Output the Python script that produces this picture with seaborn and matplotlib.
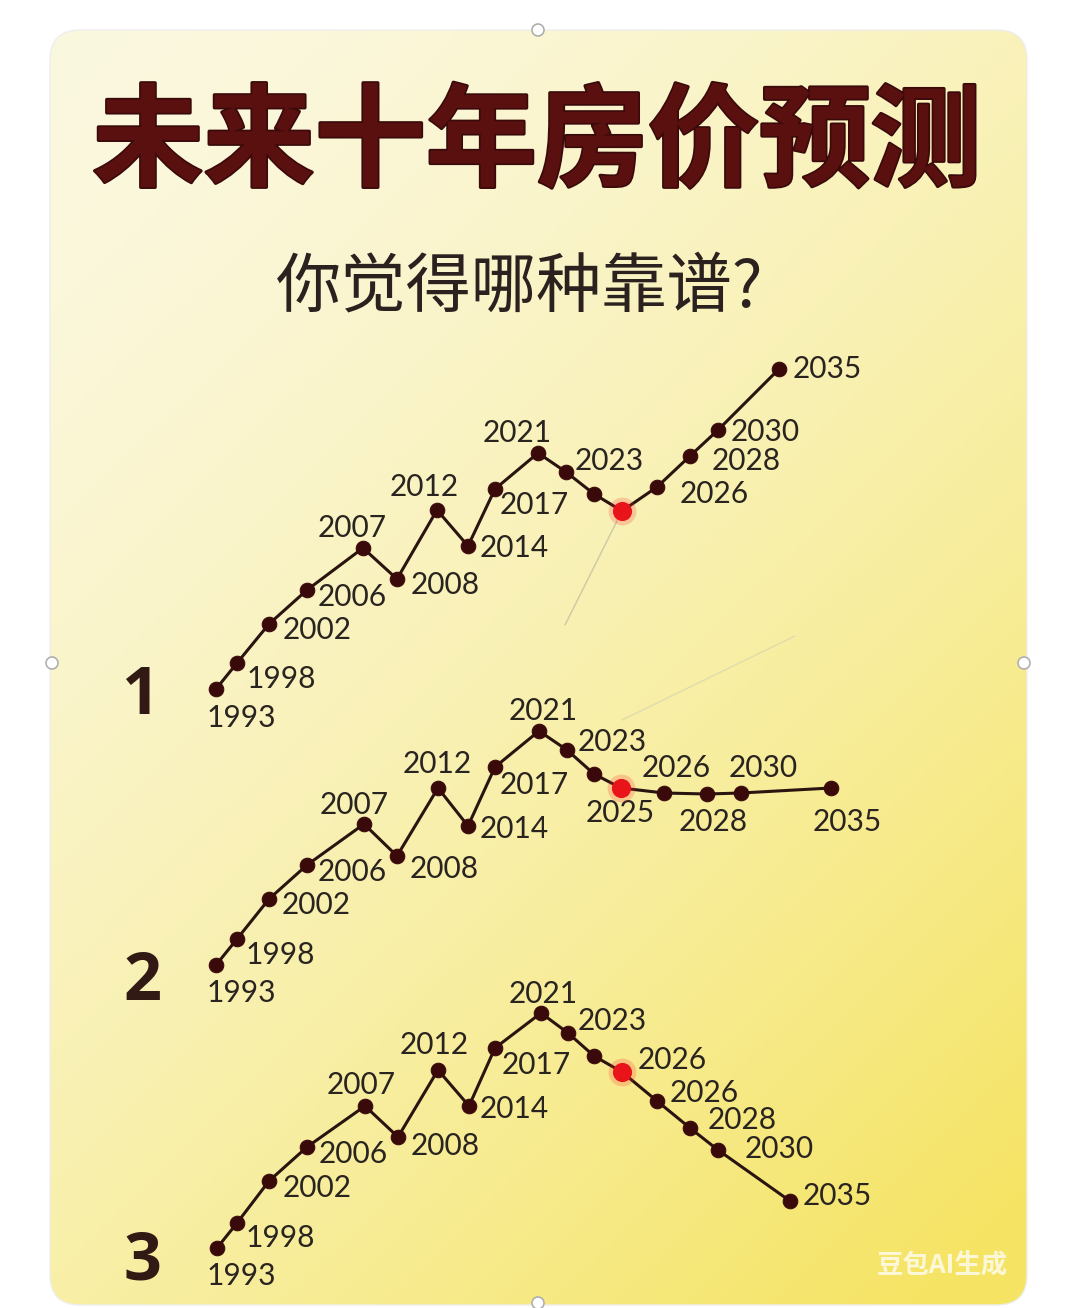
import numpy as np
import pandas as pd
import matplotlib.pyplot as plt
import matplotlib.patheffects as pe
from matplotlib.patches import FancyBboxPatch, Circle
import seaborn as sns

# Data: horizontal step position and price level
x1 = [1.6, 3.7, 6.9, 10.7, 16.3, 19.7, 23.7, 26.8, 29.5, 33.8, 36.6, 39.4, 42.2, 45.7, 49.0, 51.8, 57.9]
y1 = [1.1, 3.7, 7.6, 11.0, 15.2, 12.1, 19.0, 15.4, 21.1, 24.7, 22.8, 20.6, 18.9, 21.3, 24.4, 27.0, 33.1]
labels1 = ['1993', '1998', '2002', '2006', '2007', '2008', '2012', '2014', '2017', '2021', '2023',
           '', '', '2026', '2028', '2030', '2035']

x2 = [1.6, 3.7, 6.9, 10.7, 16.4, 19.7, 23.8, 26.8, 29.5, 33.9, 36.7, 39.4, 42.1, 46.4, 50.7, 54.1, 63.1]
y2 = [1.1, 3.7, 7.7, 11.1, 15.2, 12.0, 18.8, 15.0, 20.9, 24.5, 22.6, 20.2, 18.8, 18.3, 18.2, 18.3, 18.8]
labels2 = ['1993', '1998', '2002', '2006', '2007', '2008', '2012', '2014', '2017', '2021', '2023',
           '', '2025', '2026', '2028', '2030', '2035']

x3 = [1.7, 3.7, 6.9, 10.7, 16.5, 19.8, 23.8, 26.9, 29.5, 34.1, 36.8, 39.4, 42.2, 45.7, 49.0, 51.8, 59.0]
y3 = [1.1, 3.6, 7.8, 11.2, 15.3, 12.2, 18.9, 15.3, 21.1, 24.6, 22.6, 20.3, 18.7, 15.8, 13.1, 10.9, 5.8]
labels3 = ['1993', '1998', '2002', '2006', '2007', '2008', '2012', '2014', '2017', '2021', '2023',
           '', '2026', '2026', '2028', '2030', '2035']

# index of the "now" point drawn in red
now_idx = 12

# label offsets in pixels (dx right, dy down) and alignment
off1 = [(25, 29, 'center'), (10, 16, 'left'), (14, 6, 'left'), (11, 7, 'left'), (-11, -20, 'center'),
        (14, 6, 'left'), (-13, -23, 'center'), (12, 2, 'left'), (5, 16, 'left'), (-21, -20, 'center'),
        (9, -11, 'left'), None, None, (23, 7, 'left'), (22, 5, 'left'), (13, 2, 'left'), (14, 0, 'left')]
off2 = [(25, 28, 'center'), (9, 16, 'left'), (13, 6, 'left'), (11, 7, 'left'), (-10, -19, 'center'),
        (13, 13, 'left'), (-1, -24, 'center'), (12, 3, 'left'), (5, 18, 'left'), (4, -20, 'center'),
        (11, -8, 'left'), None, (-1, 25, 'center'), (12, -25, 'center'), (6, 28, 'center'),
        (22, -25, 'center'), (16, 34, 'center')]
off3 = [(24, 28, 'center'), (9, 15, 'left'), (14, 7, 'left'), (12, 7, 'left'), (-4, -21, 'center'),
        (13, 9, 'left'), (-4, -25, 'center'), (11, 3, 'left'), (7, 17, 'left'), (2, -19, 'center'),
        (10, -12, 'left'), None, (16, -12, 'left'), (13, -8, 'left'), (18, -8, 'left'),
        (27, -1, 'left'), (13, -5, 'left')]

W, H = 1079, 1308
sns.set_theme(style='white')
plt.rcParams['font.family'] = ['Noto Sans CJK SC', 'DejaVu Sans']

fig = plt.figure(figsize=(W / 100, H / 100), dpi=100)
fig.patch.set_facecolor('white')

# background card with yellow gradient
bg = fig.add_axes([0, 0, 1, 1])
bg.set_xlim(0, W)
bg.set_ylim(H, 0)
bg.axis('off')

cx0, cy0, cx1, cy1 = 50, 30, 1027, 1305
card = FancyBboxPatch((cx0, cy0), cx1 - cx0, cy1 - cy0,
                      boxstyle='round,pad=0,rounding_size=30',
                      facecolor='none', edgecolor='#eeeeee', lw=1)
bg.add_patch(card)
gx, gy = np.meshgrid(np.linspace(0, 1, 300), np.linspace(0, 1, 400))
s = np.clip(0.45 * gx + 0.6 * gy, 0, 1) ** 1.5
c0 = np.array([251, 248, 224]) / 255
c1 = np.array([245, 228, 100]) / 255
img = c0 + (c1 - c0) * s[..., None]
im = bg.imshow(img, extent=[cx0, cx1, cy1, cy0], aspect='auto', origin='upper')
im.set_clip_path(card)

# faint stray lines
bg.plot([622, 565], [511, 625], color='#b8b8a0', lw=1, alpha=0.7)
bg.plot([622, 795], [720, 636], color='#d0d0b0', lw=1, alpha=0.6)

# selection handles on card edges
for hx, hy in [(538, 30), (52, 663), (1024, 663), (538, 1303)]:
    bg.add_patch(Circle((hx, hy), 6, facecolor='white', edgecolor='#b0b0b0', lw=1.2))

bg.text(537, 145, '未来十年房价预测', fontsize=80, fontweight='bold', color='#5b1010',
        ha='center', va='center',
        path_effects=[pe.withStroke(linewidth=2.5, foreground='#3a0a0a')])
bg.text(520, 288, '你觉得哪种靠谱?', fontsize=47, color='#2b2220', ha='center', va='center')

for num, (nx, ny) in zip(['1', '2', '3'], [(140, 697), (143, 983), (143, 1262)]):
    bg.text(nx, ny, num, fontsize=48, fontweight='bold', color='#321a14',
            ha='center', va='center', family=['Open Sans', 'DejaVu Sans'])

bg.text(1008, 1266, '豆包AI生成', fontsize=19, fontweight='bold', color='white',
        alpha=0.75, ha='right', va='center')

line_color = '#2a1410'
dot_color = '#3a0a0a'
label_color = '#2a2420'

panels = [(x1, y1, labels1, off1, 700), (x2, y2, labels2, off2, 976), (x3, y3, labels3, off3, 1259)]
for xs, ys, labs, offs, base in panels:
    ax = fig.add_axes([200 / W, (H - base) / H, 700 / W, 400 / H])
    ax.set_xlim(0, 70)
    ax.set_ylim(0, 40)
    ax.axis('off')
    ax.patch.set_alpha(0)
    df = pd.DataFrame({'x': xs, 'y': ys})
    sns.lineplot(data=df, x='x', y='y', ax=ax, sort=False, color=line_color, lw=2.2,
                 marker='o', markersize=10.5, markerfacecolor=dot_color,
                 markeredgecolor=dot_color)
    ax.scatter([xs[now_idx]], [ys[now_idx]], s=400, color='#ff3030', alpha=0.22, zorder=4, lw=0)
    ax.scatter([xs[now_idx]], [ys[now_idx]], s=190, color='#e8141a', zorder=5, lw=0)
    for xv, yv, lab, off in zip(xs, ys, labs, offs):
        if not lab or off is None:
            continue
        dx, dy, ha = off
        ax.annotate(lab, (xv, yv), xytext=(dx, -dy), textcoords='offset pixels',
                    ha=ha, va='center', fontsize=21.5, color=label_color,
                    family=['Lato', 'DejaVu Sans'])

fig.savefig('out.png', dpi=100)
